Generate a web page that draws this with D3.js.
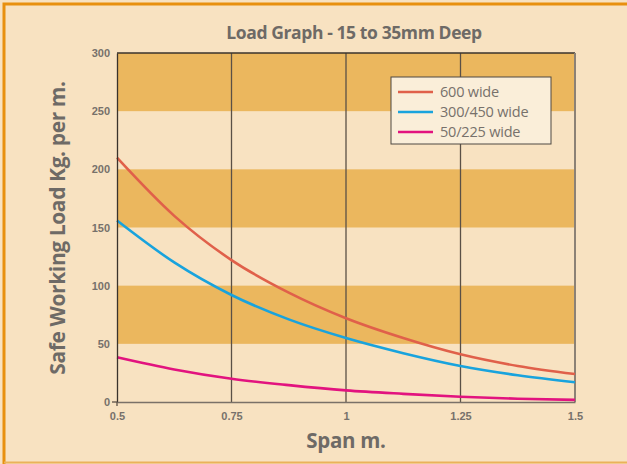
<!DOCTYPE html>
<html>
<head>
<meta charset="utf-8">
<script src="https://cdn.jsdelivr.net/npm/d3@7.9.0/dist/d3.min.js"></script>
<style>
  body { margin: 0; background: #f8e2c1; }
  svg { display: block; font-family: "Open Sans", "Noto Sans", sans-serif; }
</style>
</head>
<body>
<svg id="chart" width="627" height="464"></svg>
<script>
// spans (m) and loads (kg per m)
const spans = [0.5, 0.625, 0.75, 0.875, 1, 1.125, 1.25, 1.375, 1.5];
const load600 = [210, 160, 122, 94, 72, 55, 41, 31, 24];
const load300 = [156, 120, 92, 71, 55, 42, 31, 23, 17];
const load50 = [38.5, 28, 20, 14.5, 10, 7, 4.5, 2.8, 1.8];
const seriesNames = ['600 wide', '300/450 wide', '50/225 wide'];
const seriesColors = ['#e0604a', '#19a3dd', '#e2137f'];
const xTicks = [0.5, 0.75, 1, 1.25, 1.5];
const yTicks = [0, 50, 100, 150, 200, 250, 300];
const bands = [[50, 100], [150, 200], [250, 300]];

const svg = d3.select('#chart');

// outer frame
svg.append('rect').attr('x', 0).attr('y', 0).attr('width', 627).attr('height', 464).attr('fill', '#f8e2c1');
svg.append('path').attr('d', 'M4,464 V4 H627').attr('fill', 'none').attr('stroke', '#e8900f').attr('stroke-width', 3);
svg.append('line').attr('x1', 4).attr('x2', 627).attr('y1', 462.5).attr('y2', 462.5).attr('stroke', '#eab25a').attr('stroke-width', 2);

const x = d3.scaleLinear().domain([0.5, 1.5]).range([117, 575]);
const y = d3.scaleLinear().domain([0, 300]).range([402, 53]);

// bands
svg.append('g').selectAll('rect').data(bands).join('rect')
  .attr('x', x(0.5)).attr('width', x(1.5) - x(0.5))
  .attr('y', d => y(d[1])).attr('height', d => y(d[0]) - y(d[1]))
  .attr('fill', '#ebb75e');

// vertical grid
svg.append('g').selectAll('line').data([0.75, 1, 1.25]).join('line')
  .attr('x1', d => x(d)).attr('x2', d => x(d))
  .attr('y1', y(300)).attr('y2', y(0))
  .attr('stroke', '#5a5046').attr('stroke-width', 1.3);

// frame of plot
svg.append('line').attr('x1', x(0.5)).attr('x2', x(1.5)).attr('y1', y(300)).attr('y2', y(300)).attr('stroke', '#3a332c').attr('stroke-width', 1.3);
svg.append('line').attr('x1', x(1.5)).attr('x2', x(1.5)).attr('y1', y(300)).attr('y2', y(0)).attr('stroke', '#8c8276').attr('stroke-width', 2);

// curves
const line = d3.line().x((d, i) => x(spans[i])).y(d => y(d)).curve(d3.curveMonotoneX);
[load600, load300, load50].forEach((vals, i) => {
  svg.append('path').datum(vals).attr('d', line)
    .attr('fill', 'none').attr('stroke', seriesColors[i]).attr('stroke-width', 2.6);
});

// axes
const tickStyle = g => {
  g.selectAll('text').attr('fill', '#77716b').attr('font-weight', 700).attr('font-size', 11);
};
svg.append('g').attr('transform', `translate(${x(0.5)},0)`)
  .call(d3.axisLeft(y).tickValues(yTicks).tickSize(0).tickPadding(7))
  .call(g => g.select('.domain').attr('stroke', '#3a332c').attr('stroke-width', 1.3))
  .call(tickStyle);
svg.append('g').attr('transform', `translate(0,${y(0)})`)
  .call(d3.axisBottom(x).tickValues(xTicks).tickFormat(d3.format('')).tickSize(0).tickPadding(10))
  .call(g => g.select('.domain').attr('stroke', '#7a7168').attr('stroke-width', 1.5))
  .call(tickStyle);
// small tick marks at origin
svg.append('line').attr('x1', x(0.5) - 5).attr('x2', x(0.5)).attr('y1', y(0)).attr('y2', y(0)).attr('stroke', '#5a5046').attr('stroke-width', 1.3);
svg.append('line').attr('x1', x(0.5)).attr('x2', x(0.5)).attr('y1', y(0)).attr('y2', y(0) + 4).attr('stroke', '#5a5046').attr('stroke-width', 1.3);

// titles
svg.append('text').attr('x', 354).attr('y', 39).attr('text-anchor', 'middle')
  .attr('fill', '#6e6a66').attr('font-weight', 700).attr('font-size', 17.5).attr('letter-spacing', -0.4)
  .text('Load Graph - 15 to 35mm Deep');
svg.append('text').attr('x', 346).attr('y', 448).attr('text-anchor', 'middle')
  .attr('fill', '#6e6a66').attr('font-weight', 700).attr('font-size', 20.5).attr('letter-spacing', -0.3)
  .text('Span m.');
svg.append('text').attr('transform', 'translate(65,228) rotate(-90)').attr('text-anchor', 'middle')
  .attr('fill', '#6e6a66').attr('font-weight', 700).attr('font-size', 21).attr('letter-spacing', -0.4)
  .text('Safe Working Load Kg. per m.');

// legend
const lg = svg.append('g').attr('transform', 'translate(391,77)');
lg.append('rect').attr('width', 160).attr('height', 67).attr('fill', '#faeed9')
  .attr('stroke', '#4e4842').attr('stroke-width', 1);
seriesNames.forEach((name, i) => {
  const yy = 15 + i * 20;
  lg.append('line').attr('x1', 7).attr('x2', 42).attr('y1', yy).attr('y2', yy)
    .attr('stroke', seriesColors[i]).attr('stroke-width', 2.6);
  lg.append('text').attr('x', 49).attr('y', yy + 5).attr('fill', '#77716b')
    .attr('font-size', 14.5).attr('letter-spacing', -0.2).text(name);
});
</script>
</body>
</html>
